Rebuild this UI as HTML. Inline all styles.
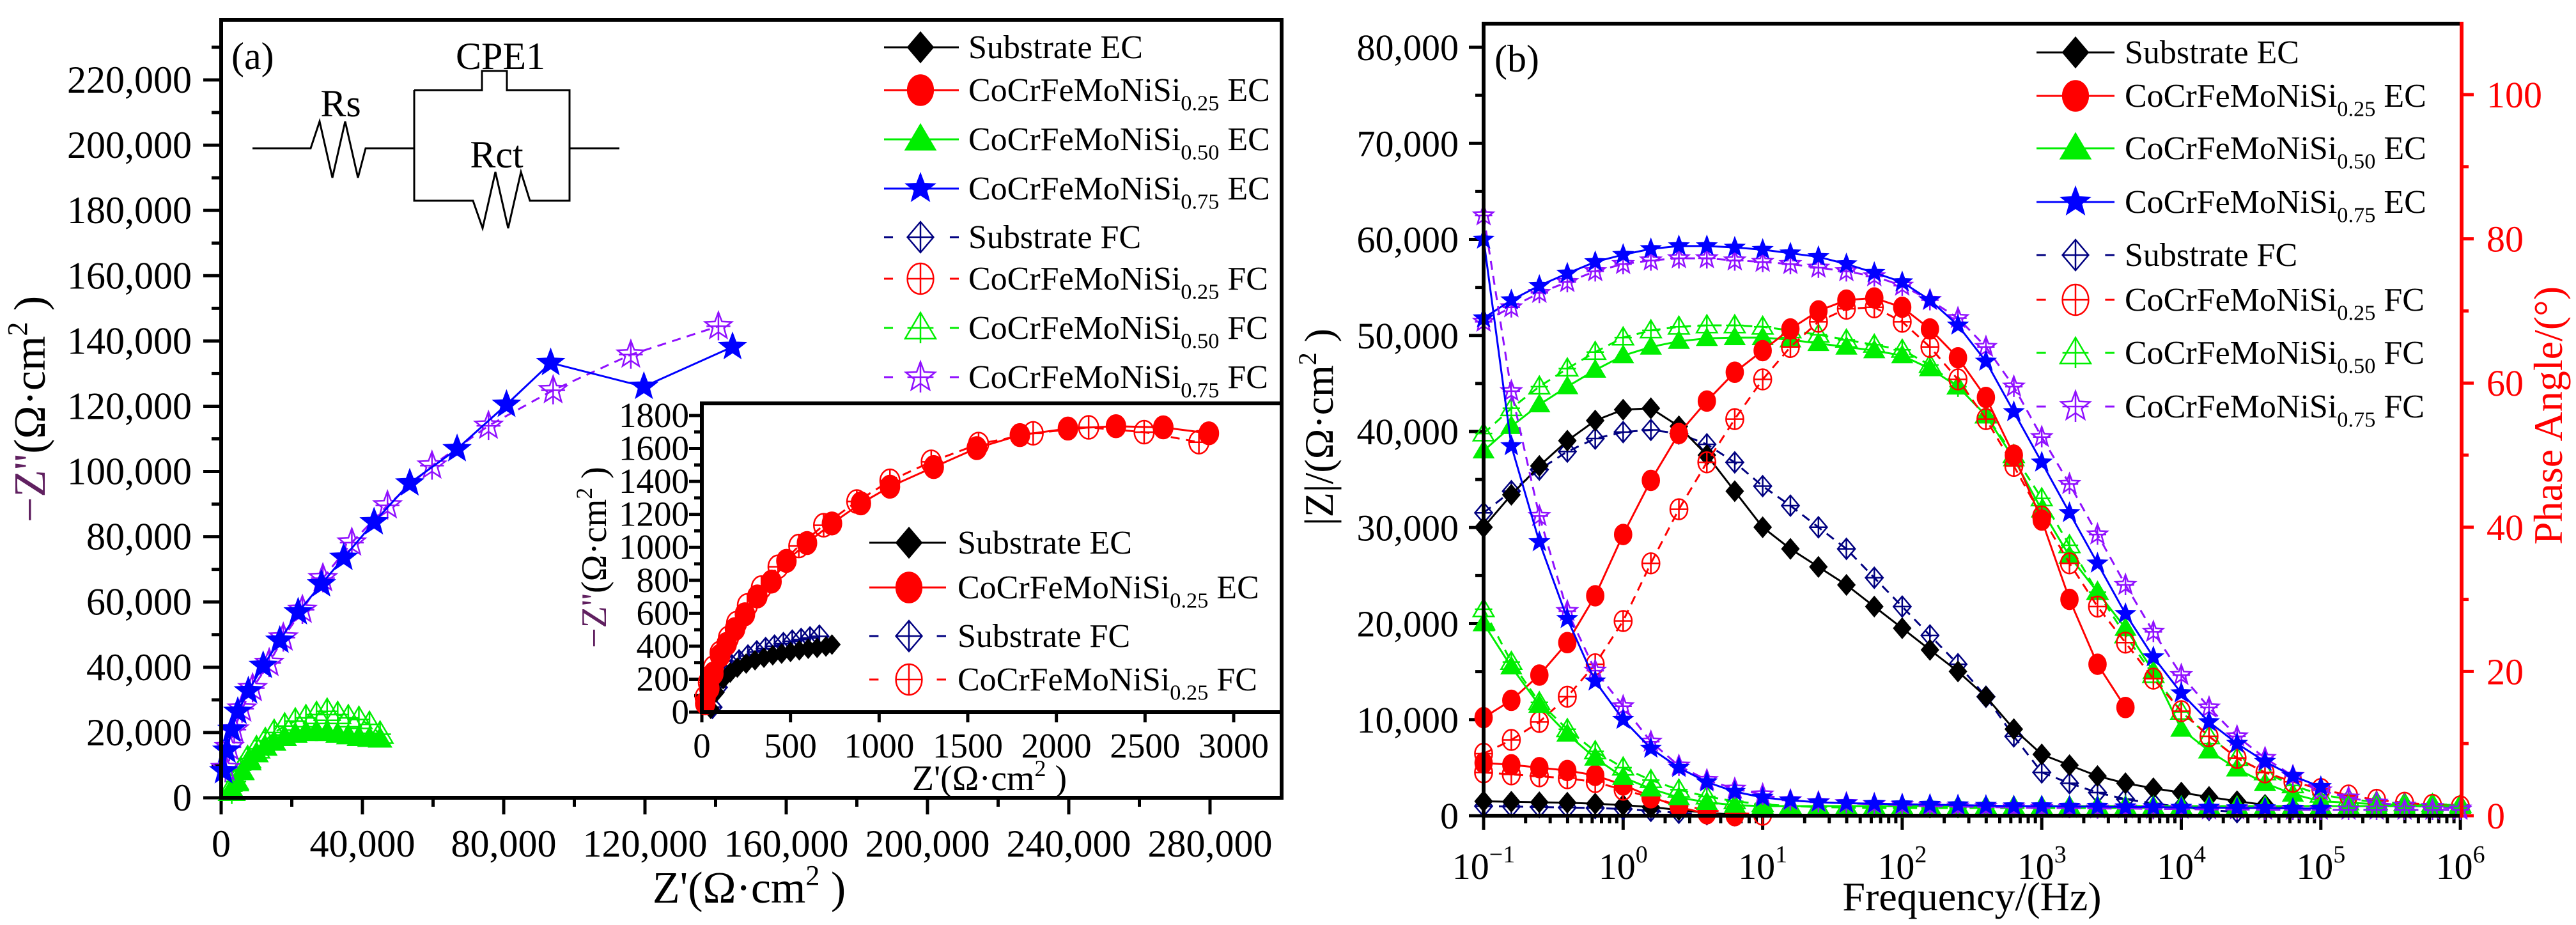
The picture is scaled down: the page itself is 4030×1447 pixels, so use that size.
<!DOCTYPE html>
<html><head><meta charset="utf-8"><style>
html,body{margin:0;padding:0;background:#fff;}
svg{display:block;font-family:"Liberation Serif",serif;}
</style></head><body>
<svg id="fig" width="4030" height="1447" viewBox="0 0 4030 1447" xmlns="http://www.w3.org/2000/svg">
<rect width="4030" height="1447" fill="#fff"/>
<g id="pa"></g>
<g id="pb"></g>
</svg>
<script>
// ---------- Panel (a) main Nyquist data ----------
const blueECx = [700,1600,3000,4700,7700,11900,16600,21800,28400,34700,43300,53400,66800,80800,93300,119700,144800];
const blueECy = [8200,14500,20900,26400,32700,40500,48200,56900,65500,73600,84500,96400,106900,120500,133300,126000,138200];
const purpFCx = [1200,2300,3700,5900,8900,13600,17600,23000,28800,37000,47100,59700,75700,94000,116000,140800];
const purpFCy = [9100,15500,20900,27300,33600,41300,49100,57600,67300,78200,89600,101800,114000,124900,135800,144500];
const greenECx = [3000,4500,6000,8000,10000,12500,15000,18000,21000,24000,27000,30000,33000,36000,39000,42000,45000];
const greenECy = [2000,5000,8000,11000,13500,15500,17000,18500,19500,20000,20300,20000,19500,19000,18500,18200,18000];
const greenFCx = [3000,4000,5500,7500,10000,12500,15000,18000,21000,24000,27000,30000,33000,36000,39000,42000,45000];
const greenFCy = [2000,5000,8500,12000,15000,17500,20000,22000,23500,24500,25500,26500,25500,24500,24000,22500,19500];
// ---------- Inset data ----------
const redECx = [19,42,65,103,140,187,243,313,393,477,593,734,897,1061,1308,1551,1794,2065,2336,2603,2860];
const redECy = [54,144,234,342,414,504,594,702,792,918,1026,1145,1267,1368,1487,1602,1681,1721,1735,1728,1692];
const redFCx = [19,37,65,103,150,196,257,336,430,547,687,874,1061,1294,1561,1869,2182,2495,2804];
const redFCy = [90,180,270,360,450,540,648,756,882,1008,1134,1278,1404,1519,1627,1692,1728,1699,1638];
const subECx = [50,80,120,160,200,250,300,350,400,450,500,550,600,650,700,734];
const subECy = [20,120,200,240,270,295,315,330,345,355,365,375,385,390,398,410];
const subFCx = [60,90,130,170,210,260,310,360,410,460,510,560,610,663];
const subFCy = [30,150,230,280,310,340,365,385,400,415,430,440,450,460];
// ---------- Panel (b) Bode data ----------
const freqs = [0.1,0.158,0.251,0.398,0.631,1,1.58,2.51,3.98,6.31,10,15.8,25.1,39.8,63.1,100,158,251,398,631,1000,1580,2510,3980,6310,1e4,1.58e4,2.51e4,3.98e4,6.31e4,1e5,1.58e5,2.51e5,3.98e5,6.31e5,1e6];
const N=null;
const phSubEC = [40,44.5,48.5,52,54.8,56.3,56.5,54,50,45,40,37,34.5,32,29,26,23,20,16.5,12,8.5,7,5.5,4.5,3.8,3.2,2.6,2,1.5,1,N,N,N,N,N,N];
const phSubFC = [42,45,48,50.5,52.3,53.2,53.5,53,51.5,49,45.7,43,40,37,33,29,25,21,16.5,11,6,4.5,3.2,2.3,1.7,1.2,0.8,0.5,N,N,N,N,N,N,N,N];
const phRedEC = [13.6,16,19.5,24,30.5,39,46.5,53,57.5,61.5,64.5,67.5,70,71.5,71.8,70.5,67.5,63.5,58,50,41,30,21,15,N,N,N,N,N,N,N,N,N,N,N,N];
const phRedFC = [8.6,10.5,13,16.5,21,27,35,42.5,49,55,60.5,65,68.5,70.3,70.5,68.5,65,60.5,55,48.5,41.5,35,29,24,19,14.5,11,8,6,4.7,3.7,2.8,2.2,1.8,1.5,1.3];
const phGreenEC = [50.6,54,57,59.5,61.8,63.8,65,65.8,66.2,66.3,66.3,66,65.5,65,64.5,63.8,62,59.5,55.5,49.5,42.4,36,31,26,20,12,9,6.5,4.5,3,2,1.8,1.6,1.5,1.5,1.5];
const phGreenFC = [53,56.5,59.5,62,64.3,66.3,67.3,67.8,68,68,67.8,67.3,66.7,66,65.3,64.6,62.5,59.5,55.5,50,44,37.5,31,25,19.5,14.4,11,8,6,4.2,2.9,2.3,1.9,1.7,1.6,1.5];
const phBlueEC = [69,71.5,73.5,75.2,76.8,77.8,78.6,79,79,78.8,78.5,78,77.5,76.5,75.3,74,71.5,68,63,56,49,42,35,28,22,17,13,10,7.5,5.5,4,N,N,N,N,N];
const phPurpFC = [68.5,70.5,72.5,74,75.5,76.5,77,77.3,77.3,77,76.8,76.5,76,75.5,74.8,73.5,71.5,69,65,59.5,52.5,46,39,32,25.5,19.5,15,11,8,5.5,3.5,2.5,1.8,1.4,1.2,1];
const zSubEC = [1500,1450,1400,1350,1250,1100,900,600,300,100,N,N,N,N,N,N,N,N,N,N,N,N,N,N,N,N,N,N,N,N,N,N,N,N,N,N];
const zSubFC = [1000,950,900,850,800,700,500,300,150,50,N,N,N,N,N,N,N,N,N,N,N,N,N,N,N,N,N,N,N,N,N,N,N,N,N,N];
const zRedEC = [5500,5300,5000,4700,4200,3200,2000,900,200,0,N,N,N,N,N,N,N,N,N,N,N,N,N,N,N,N,N,N,N,N,N,N,N,N,N,N];
const zRedFC = [4500,4300,4100,3900,3500,2700,1900,1100,600,300,100,N,N,N,N,N,N,N,N,N,N,N,N,N,N,N,N,N,N,N,N,N,N,N,N,N];
const zGreenEC = [20000,15500,11500,8500,6000,4000,2800,1900,1400,1100,1000,1000,1000,1000,1000,1000,1000,1000,1000,1000,1000,1000,1000,1000,1000,1000,1000,1000,1000,1000,1000,1000,1000,1000,1000,1000];
const zGreenFC = [21500,16000,11800,9000,6700,5000,3700,2700,2000,1500,1200,1000,900,850,800,800,800,800,800,800,800,800,800,800,800,800,800,N,N,N,N,N,N,N,N,N];
const zBlueEC = [60000,38500,28500,20500,14000,10000,7000,5000,3500,2500,1900,1600,1400,1300,1250,1200,1150,1100,1050,1000,1000,950,950,900,900,850,850,800,800,750,750,N,N,N,N,N];
const zPurpFC = [62500,44200,31200,21300,15100,11400,7700,5200,3700,2800,2200,1600,1400,1300,1200,1100,1000,950,900,850,800,800,750,750,700,700,650,650,600,600,600,600,600,600,600,600];
// axis tick labels
const aXTicks = [0,40000,80000,120000,160000,200000,240000,280000];
const aYTicks = [0,20000,40000,60000,80000,100000,120000,140000,160000,180000,200000,220000];
const iXTicks = [0,500,1000,1500,2000,2500,3000];
const iYTicks = [0,200,400,600,800,1000,1200,1400,1600,1800];
const bYTicks = [0,10000,20000,30000,40000,50000,60000,70000,80000];
const bRTicks = [0,20,40,60,80,100];
const bXExp = [-1,0,1,2,3,4,5,6];

const NS="http://www.w3.org/2000/svg";
function el(tag,attrs,parent){const e=document.createElementNS(NS,tag);for(const k in attrs)e.setAttribute(k,attrs[k]);parent.appendChild(e);return e;}
const fmt=v=>v.toLocaleString('en-US');
const C={black:'#000',red:'#ff0000',green:'#00ee00',blue:'#0000ff',navy:'#000080',purple:'#9010ff'};

// scales
const ax=x=>346+x/280000*1547, ay=y=>1248-y/220000*1123;
const ix=x=>1098+x/3000*832, iy=y=>1114-y/1800*464;
const bx=f=>2321+(Math.log10(f)+1)*218.3, byL=v=>1276-v/80000*1202, byR=p=>1276-p*11.28;

function marker(g,type,cx,cy,s,color,filled){
  const h=s/2; let pts;
  const st={fill:filled?color:'none',stroke:color,'stroke-width':filled?1.5:2.5};
  let m;
  if(type==='circle'){m=el('ellipse',Object.assign({cx:cx,cy:cy,rx:h*0.85,ry:h},st),g);}
  else{
    if(type==='diamond')pts=[[0,-h],[h*0.85,0],[0,h],[-h*0.85,0]];
    else if(type==='triangle')pts=[[0,-h],[h,h*0.7],[-h,h*0.7]];
    else{pts=[];for(let i=0;i<10;i++){const r=i%2?h*0.42:h;const a=-Math.PI/2+i*Math.PI/5;pts.push([r*Math.cos(a),r*Math.sin(a)]);}}
    m=el('polygon',Object.assign({points:pts.map(p=>(cx+p[0]).toFixed(1)+','+(cy+p[1]).toFixed(1)).join(' ')},st),g);
  }
  if(!filled){el('path',{d:`M${cx-h*0.85} ${cy}H${cx+h*0.85}M${cx} ${cy-h}V${cy+h}`,stroke:color,'stroke-width':2.5},g);}
  return m;
}
function series(parent,name,xs,ys,sx,sy,color,type,filled,size){
  const g=el('g',{},parent);
  
  
  let d='';let pen=false;
  for(let i=0;i<xs.length;i++){if(ys[i]==null){pen=false;continue;}d+=(pen?'L':'M')+sx(xs[i]).toFixed(1)+' '+sy(ys[i]).toFixed(1);pen=true;}
  const ln=el('path',{d:d,fill:'none',stroke:color,'stroke-width':3},g);
  if(!filled)ln.setAttribute('stroke-dasharray','14 10');
  for(let i=0;i<xs.length;i++){if(ys[i]==null)continue;
    const m=marker(g,type,sx(xs[i]),sy(ys[i]),size,color,filled);
    
    }
}
function text(parent,x,y,str,size,anchor,color,name){
  const t=el('text',{x:x,y:y,'font-size':size,'text-anchor':anchor||'start',fill:color||'#000'},parent);
  t.textContent=str;
  
  
  return t;
}
function legendText(parent,x,y,base,sub,tail,size,name){
  const t=el('text',{x:x,y:y,'font-size':size},parent);
  
  
  const a=el('tspan',{},t);a.textContent=base;
  if(sub){const b=el('tspan',{'font-size':size*0.66,dy:size*0.28},t);b.textContent=sub;
    const c=el('tspan',{dy:-size*0.28},t);c.textContent=' '+tail;}
}
function legendEntry(parent,x0,x1,mx,tx,y,color,type,filled,base,sub,tail,size,name){
  const g=el('g',{},parent);
  
  
  if(filled)el('line',{x1:x0,x2:x1,y1:y,y2:y,stroke:color,'stroke-width':3},g);
  else{const L=(x1-x0);el('path',{d:`M${x0} ${y}h${L*0.12}M${x0+L*0.3} ${y}h0M${x1-L*0.12} ${y}h${L*0.12}`,stroke:color,'stroke-width':3},g);}
  marker(g,type,mx,y,48,color,filled);
  legendText(g,tx,y+17,base,sub,tail,size,name+'-text');
}

// ================= PANEL A =================
const pa=document.getElementById('pa');
// ticks
const tg=el('g',{stroke:'#000','stroke-width':5},pa);
for(let v=0;v<=230000;v+=10000){const y=ay(v);if(y<30)continue;el('line',{x1:346,x2:v%20000?331:318,y1:y,y2:y},tg);}
for(let v=0;v<=300000;v+=20000){const x=ax(v);if(x>2003)continue;el('line',{x1:x,x2:x,y1:1248,y2:v%40000?1262:1274},tg);}
aYTicks.forEach(v=>text(pa,300,ay(v)+20,fmt(v),60,'end','#000','y-tick-label'));
aXTicks.forEach(v=>text(pa,ax(v),1340,fmt(v),60,'middle','#000','x-tick-label'));
// series main
series(pa,'series-green-fc',greenFCx,greenFCy,ax,ay,C.green,'triangle',false,40);
series(pa,'series-green-ec',greenECx,greenECy,ax,ay,C.green,'triangle',true,36);
series(pa,'series-purple-fc',purpFCx,purpFCy,ax,ay,C.purple,'star',false,44);
series(pa,'series-blue-ec',blueECx,blueECy,ax,ay,C.blue,'star',true,44);
// frame
el('rect',{x:346,y:31,width:1659,height:1217,fill:'none',stroke:'#000','stroke-width':6},pa);
// y title
const yt=el('text',{transform:'translate(70,640) rotate(-90)','text-anchor':'middle','font-size':70},pa);


{const s1=el('tspan',{fill:'#602060'},yt);s1.textContent="−Z''";const s2=el('tspan',{},yt);s2.textContent="(Ω·cm";const s3=el('tspan',{'font-size':44,dy:-28},yt);s3.textContent="2";const s4=el('tspan',{dy:28},yt);s4.textContent=" )";}
{const t=el('text',{x:1172,y:1412,'text-anchor':'middle','font-size':70},pa);


const a=el('tspan',{},t);a.textContent="Z'(Ω·cm";const b=el('tspan',{'font-size':44,dy:-28},t);b.textContent="2";const c=el('tspan',{dy:28},t);c.textContent=" )";}
text(pa,362,108,'(a)',60,'start','#000','panel-a-label');
// circuit
const cg=el('g',{fill:'none',stroke:'#000','stroke-width':3},pa);


el('path',{d:'M395 232H486L500 190L520 278L540 190L560 278L572 232H648M648 141H754V111H793V141H891V314H829L815 269L795 357L775 269L755 357L740 314H648V141M891 232H969'},cg);
text(pa,783,108,'CPE1',60,'middle','#000','cpe1-label');
text(pa,533,182,'Rs',60,'middle','#000','rs-label');
text(pa,777,262,'Rct',60,'middle','#000','rct-label');
// legend a
const la=el('g',{},pa);


const legRows=[[C.black,'diamond',true,'Substrate EC','',''],[C.red,'circle',true,'CoCrFeMoNiSi','0.25','EC'],[C.green,'triangle',true,'CoCrFeMoNiSi','0.50','EC'],[C.blue,'star',true,'CoCrFeMoNiSi','0.75','EC'],
[C.navy,'diamond',false,'Substrate FC','',''],[C.red,'circle',false,'CoCrFeMoNiSi','0.25','FC'],[C.green,'triangle',false,'CoCrFeMoNiSi','0.50','FC'],[C.purple,'star',false,'CoCrFeMoNiSi','0.75','FC']];
const legAy=[74,141,218,295,371,436,513,590];
legRows.forEach((r,i)=>legendEntry(la,1383,1500,1440,1515,legAy[i],r[0],r[1],r[2],r[3],r[4],r[5],52,'legend-a-entry'));
// inset
const ins=el('g',{},pa);


el('rect',{x:1098,y:631,width:907,height:483,fill:'#fff'},ins);
const itg=el('g',{stroke:'#000','stroke-width':5},ins);
for(let v=0;v<=1800;v+=100){const y=iy(v);el('line',{x1:1098,x2:v%200?1086:1078,y1:y,y2:y},itg);}
iXTicks.forEach(v=>el('line',{x1:ix(v),x2:ix(v),y1:1114,y2:1130},itg));
iYTicks.forEach(v=>text(ins,1078,iy(v)+18,String(v),55,'end','#000','inset-y-tick-label'));
iXTicks.forEach(v=>text(ins,ix(v),1185,String(v),55,'middle','#000','inset-x-tick-label'));
series(ins,'inset-sub-fc',subFCx,subFCy,ix,iy,C.navy,'diamond',false,34);
series(ins,'inset-sub-ec',subECx,subECy,ix,iy,C.black,'diamond',true,30);
series(ins,'inset-red-fc',redFCx,redFCy,ix,iy,C.red,'circle',false,36);
series(ins,'inset-red-ec',redECx,redECy,ix,iy,C.red,'circle',true,36);
el('rect',{x:1098,y:631,width:907,height:483,fill:'none',stroke:'#000','stroke-width':6},ins);
{const t=el('text',{transform:'translate(948,872) rotate(-90)','text-anchor':'middle','font-size':56},ins);


const a=el('tspan',{fill:'#602060'},t);a.textContent="−Z''";const b=el('tspan',{},t);b.textContent="(Ω·cm";const c=el('tspan',{'font-size':36,dy:-22},t);c.textContent="2";const d=el('tspan',{dy:22},t);d.textContent=" )";}
{const t=el('text',{x:1548,y:1236,'text-anchor':'middle','font-size':56},ins);


const a=el('tspan',{},t);a.textContent="Z'(Ω·cm";const b=el('tspan',{'font-size':36,dy:-22},t);b.textContent="2";const c=el('tspan',{dy:22},t);c.textContent=" )";}
const iLeg=[[C.black,'diamond',true,'Substrate EC','',''],[C.red,'circle',true,'CoCrFeMoNiSi','0.25','EC'],[C.navy,'diamond',false,'Substrate FC','',''],[C.red,'circle',false,'CoCrFeMoNiSi','0.25','FC']];
const iLy=[849,919,995,1063];
iLeg.forEach((r,i)=>legendEntry(ins,1360,1480,1422,1498,iLy[i],r[0],r[1],r[2],r[3],r[4],r[5],52,'inset-legend-entry'));

// ================= PANEL B =================
const pb=document.getElementById('pb');
const btg=el('g',{stroke:'#000','stroke-width':5},pb);
for(let v=0;v<=80000;v+=5000){const y=byL(v);el('line',{x1:2321,x2:v%10000?2308:2298,y1:y,y2:y},btg);}
for(let e=-1;e<=6;e++){const x=bx(Math.pow(10,e));el('line',{x1:x,x2:x,y1:1276,y2:1298},btg);
  if(e<6)for(let k=2;k<10;k++){const xm=bx(k*Math.pow(10,e));el('line',{x1:xm,x2:xm,y1:1276,y2:1288},btg);}}
const rtg=el('g',{stroke:C.red,'stroke-width':5},pb);
for(let p=0;p<=100;p+=10){const y=byR(p);el('line',{x1:3851,x2:p%20?3862:3870,y1:y,y2:y},rtg);}
bYTicks.forEach(v=>text(pb,2282,byL(v)+20,fmt(v),58,'end','#000','b-y-tick-label'));
bRTicks.forEach(v=>text(pb,3890,byR(v)+20,String(v),58,'start',C.red,'b-right-tick-label'));
bXExp.forEach(e=>{const t=el('text',{x:bx(Math.pow(10,e)),y:1375,'font-size':58,'text-anchor':'middle'},pb);
  
  
  const a=el('tspan',{},t);a.textContent='10';const b=el('tspan',{'font-size':38,dy:-26},t);b.textContent=e<0?'−1':String(e);});
// series
const bs=[
 ['phase-sub-fc',phSubFC,byR,C.navy,'diamond',false],['phase-sub-ec',phSubEC,byR,C.black,'diamond',true],
 ['phase-green-fc',phGreenFC,byR,C.green,'triangle',false],['phase-green-ec',phGreenEC,byR,C.green,'triangle',true],
 ['phase-red-fc',phRedFC,byR,C.red,'circle',false],['phase-red-ec',phRedEC,byR,C.red,'circle',true],
 ['phase-purple-fc',phPurpFC,byR,C.purple,'star',false],['phase-blue-ec',phBlueEC,byR,C.blue,'star',true],
 ['z-sub-fc',zSubFC,byL,C.navy,'diamond',false],['z-sub-ec',zSubEC,byL,C.black,'diamond',true],
 ['z-red-fc',zRedFC,byL,C.red,'circle',false],['z-red-ec',zRedEC,byL,C.red,'circle',true],
 ['z-green-fc',zGreenFC,byL,C.green,'triangle',false],['z-green-ec',zGreenEC,byL,C.green,'triangle',true],
 ['z-purple-fc',zPurpFC,byL,C.purple,'star',false],['z-blue-ec',zBlueEC,byL,C.blue,'star',true]];
bs.forEach(s=>series(pb,s[0],freqs,s[1],bx,s[2],s[3],s[4],s[5],32));
// frame
el('path',{d:'M2321 1276V37H3851',fill:'none',stroke:'#000','stroke-width':6},pb);
el('line',{x1:2318,x2:3851,y1:1276,y2:1276,stroke:'#000','stroke-width':6},pb);
el('line',{x1:3851,x2:3851,y1:34,y2:1279,stroke:C.red,'stroke-width':6},pb);
text(pb,2373,112,'(b)',60,'middle','#000','panel-b-label');
{const t=el('text',{transform:'translate(2085,668) rotate(-90)','text-anchor':'middle','font-size':64},pb);


const a=el('tspan',{},t);a.textContent="|Z|/(Ω·cm";const b=el('tspan',{'font-size':40,dy:-26},t);b.textContent="2";const c=el('tspan',{dy:26},t);c.textContent=" )";}
{const t=text(pb,0,0,'Phase Angle/(°)',64,'middle',C.red,'b-right-axis-title');t.setAttribute('transform','translate(4008,650) rotate(-90)');}
text(pb,3085,1424,'Frequency/(Hz)',64,'middle','#000','b-x-axis-title');
const lb=el('g',{},pb);


const legBy=[82,150,232,316,399,469,552,636];
legRows.forEach((r,i)=>legendEntry(lb,3186,3308,3247,3324,legBy[i],r[0],r[1],r[2],r[3],r[4],r[5],52,'legend-b-entry'));
</script>
</body></html>
